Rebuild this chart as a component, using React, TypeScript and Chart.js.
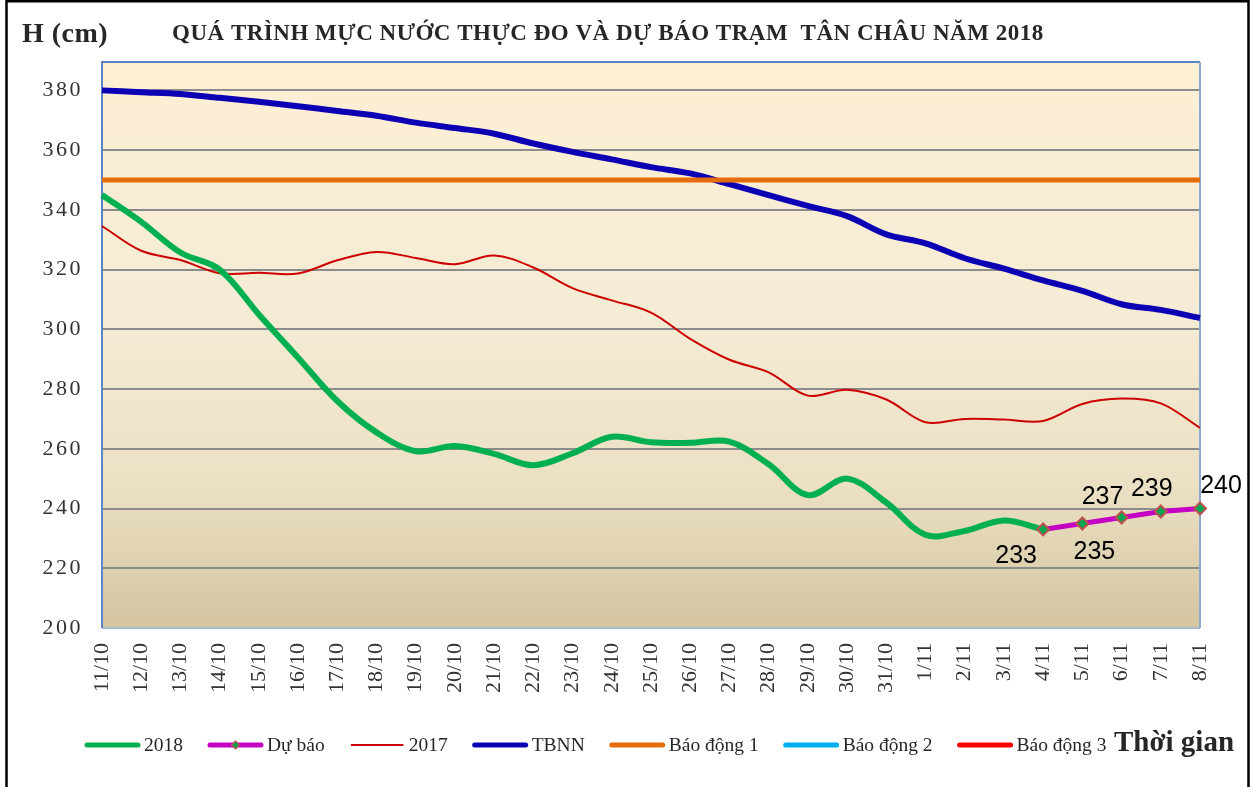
import React, { useEffect, useRef } from "react";
import { Chart, registerables } from "chart.js";

Chart.register(...registerables);

// ---------- DATA ----------
const categories = [
  "11/10", "12/10", "13/10", "14/10", "15/10", "16/10", "17/10", "18/10", "19/10", "20/10",
  "21/10", "22/10", "23/10", "24/10", "25/10", "26/10", "27/10", "28/10", "29/10", "30/10",
  "31/10", "1/11", "2/11", "3/11", "4/11", "5/11", "6/11", "7/11", "8/11",
];

const series2018: (number | null)[] = [
  345, 336, 325.7, 320, 305, 290.5, 276, 265.5, 259.2, 260.9,
  258.3, 254.5, 258.5, 264, 262.2, 262, 262.4, 254.8, 244.5, 250,
  242, 231.2, 232.5, 236, 233, null, null, null, null,
];

const forecast: (number | null)[] = [
  null, null, null, null, null, null, null, null, null, null,
  null, null, null, null, null, null, null, null, null, null,
  null, null, null, null, 233, 235, 237, 239, 240,
];

const series2017: number[] = [
  334.6, 326.3, 323.2, 318.8, 318.9, 318.7, 323.1, 325.9, 323.9, 321.8,
  324.7, 320.7, 313.8, 309.7, 305.6, 296.8, 289.8, 285.6, 277.8, 279.8,
  276.5, 268.9, 270, 269.8, 269.3, 275, 276.8, 275.2, 267,
];

const tbnn: number[] = [
  380, 379.4, 378.8, 377.5, 376.2, 374.7, 373.1, 371.5, 369.2, 367.4,
  365.5, 362.2, 359.4, 356.9, 354.3, 352.2, 348.6, 344.9, 341.3, 337.9,
  331.8, 328.8, 323.8, 320.3, 316.4, 312.9, 308.4, 306.5, 303.8,
];

const alarmLevel1 = 350;
const alarmLevel2 = 400;
const alarmLevel3 = 450;

const yTickValues = [200, 220, 240, 260, 280, 300, 320, 340, 360, 380];

const titleText = "QUÁ TRÌNH MỰC NƯỚC THỰC ĐO VÀ DỰ BÁO TRẠM  TÂN CHÂU NĂM 2018";
const yAxisTitle = "H (cm)";
const xAxisTitle = "Thời gian";

// offsets (style) of the forecast value labels relative to their points
const forecastLabelOffsets: [number, number][] = [
  [-27, 27], [12, 29], [-19, -20], [-9, -22], [21, -22],
];

const SERIF = "'Liberation Serif', 'Times New Roman', serif";
const SANS = "'Liberation Sans', Arial, sans-serif";

export default function App() {
  const canvasRef = useRef<HTMLCanvasElement | null>(null);

  useEffect(() => {
    const canvas = canvasRef.current;
    if (!canvas) return;

    const constant = (v: number) => categories.map(() => v);

    const datasets: any[] = [
      {
        label: "2018",
        data: series2018,
        borderColor: "#00B050",
        borderWidth: 6,
        tension: 0.35,
        pointRadius: 0,
        order: 1,
        legendWidth: 5,
      },
      {
        label: "Dự báo",
        data: forecast,
        borderColor: "#C400C4",
        borderWidth: 5,
        tension: 0,
        pointStyle: "rectRot",
        pointRadius: 6,
        pointHoverRadius: 6,
        pointBackgroundColor: "#00A651",
        pointBorderColor: "#C0504D",
        pointBorderWidth: 2,
        clip: false,
        order: 0,
        legendWidth: 5,
        legendMarker: true,
      },
      {
        label: "2017",
        data: series2017,
        borderColor: "#CC0000",
        borderWidth: 2,
        tension: 0.35,
        pointRadius: 0,
        order: 3,
        legendWidth: 2,
      },
      {
        label: "TBNN",
        data: tbnn,
        borderColor: "#0C00B4",
        borderWidth: 6,
        tension: 0.35,
        pointRadius: 0,
        order: 4,
        legendWidth: 5,
      },
      {
        label: "Báo động 1",
        data: constant(alarmLevel1),
        borderColor: "#E46C0A",
        borderWidth: 5,
        tension: 0,
        pointRadius: 0,
        order: 2,
        legendWidth: 5,
      },
      {
        label: "Báo động 2",
        data: constant(alarmLevel2),
        borderColor: "#00B0F0",
        borderWidth: 5,
        tension: 0,
        pointRadius: 0,
        order: 5,
        legendWidth: 5,
      },
      {
        label: "Báo động 3",
        data: constant(alarmLevel3),
        borderColor: "#FF0000",
        borderWidth: 5,
        tension: 0,
        pointRadius: 0,
        order: 6,
        legendWidth: 5,
      },
    ];

    const setSpacing = (ctx: any, v: string) => {
      if ("letterSpacing" in ctx) ctx.letterSpacing = v;
    };

    const backgroundPlugin = {
      id: "plotBackground",
      beforeDraw(chart: any) {
        const { ctx, chartArea: a } = chart;
        ctx.save();
        const g = ctx.createLinearGradient(0, a.top, 0, a.bottom);
        g.addColorStop(0, "#FDEFD4");
        g.addColorStop(0.45, "#F5ECD5");
        g.addColorStop(0.75, "#EBE0C4");
        g.addColorStop(1, "#D4C5A0");
        ctx.fillStyle = g;
        ctx.fillRect(a.left, a.top, a.right - a.left, a.bottom - a.top);
        ctx.restore();
      },
      beforeDatasetsDraw(chart: any) {
        const { ctx, chartArea: a } = chart;
        ctx.save();
        ctx.lineWidth = 2;
        ctx.strokeStyle = "#A9BBD3";
        ctx.beginPath();
        ctx.moveTo(a.left, a.bottom);
        ctx.lineTo(a.right, a.bottom);
        ctx.stroke();
        ctx.strokeStyle = "#5B86C3";
        ctx.beginPath();
        ctx.moveTo(a.left, a.bottom);
        ctx.lineTo(a.left, a.top);
        ctx.lineTo(a.right, a.top);
        ctx.stroke();
        ctx.strokeStyle = "#8FAACF";
        ctx.beginPath();
        ctx.moveTo(a.right, a.top);
        ctx.lineTo(a.right, a.bottom);
        ctx.stroke();
        ctx.restore();
      },
      afterDatasetsDraw(chart: any) {
        // y tick labels (z=1 layer) are drawn right after this hook: widen their spacing
        setSpacing(chart.ctx, "2.5px");
      },
    };

    const overlayPlugin = {
      id: "overlay",
      afterDraw(chart: any) {
        const { ctx } = chart;
        setSpacing(ctx, "0px");
        ctx.save();

        // outer frame
        ctx.strokeStyle = "#000";
        ctx.lineWidth = 2.5;
        ctx.beginPath();
        ctx.moveTo(6.5, 800);
        ctx.lineTo(6.5, 1.25);
        ctx.lineTo(1248.5, 1.25);
        ctx.lineTo(1248.5, 800);
        ctx.stroke();

        // titles
        ctx.fillStyle = "#262626";
        ctx.textBaseline = "middle";
        ctx.textAlign = "left";
        ctx.font = `bold 28px ${SERIF}`;
        setSpacing(ctx, "0.5px");
        ctx.fillText(yAxisTitle, 22, 35);

        ctx.font = `bold 23px ${SERIF}`;
        setSpacing(ctx, "0px");
        const tw = ctx.measureText(titleText).width;
        const chars = Array.from(titleText).length;
        const sp = (871 - tw) / (chars - 1);
        setSpacing(ctx, `${sp.toFixed(2)}px`);
        ctx.fillText(titleText, 172, 34);
        setSpacing(ctx, "0px");

        // forecast value labels
        const fIndex = chart.data.datasets.findIndex((d: any) => d.label === "Dự báo");
        const meta = chart.getDatasetMeta(fIndex);
        ctx.font = `25px ${SANS}`;
        ctx.fillStyle = "#000";
        ctx.textAlign = "center";
        let k = 0;
        meta.data.forEach((el: any, i: number) => {
          const v = chart.data.datasets[fIndex].data[i];
          if (v === null || v === undefined) return;
          const off = forecastLabelOffsets[k] || [0, -20];
          k++;
          ctx.fillText(String(v), el.x + off[0], el.y + off[1]);
        });

        // legend
        const legendY = 745;
        let x = 85;
        const lineLen = 55;
        ctx.font = `19.5px ${SERIF}`;
        ctx.textAlign = "left";
        ctx.textBaseline = "middle";
        chart.data.datasets.forEach((ds: any) => {
          ctx.strokeStyle = ds.borderColor;
          ctx.lineWidth = ds.legendWidth;
          ctx.lineCap = "round";
          ctx.beginPath();
          ctx.moveTo(x + 2, legendY);
          ctx.lineTo(x + lineLen - 2, legendY);
          ctx.stroke();
          if (ds.legendMarker) {
            const cx = x + lineLen / 2;
            const r = 4;
            ctx.beginPath();
            ctx.moveTo(cx - r, legendY);
            ctx.lineTo(cx, legendY - r);
            ctx.lineTo(cx + r, legendY);
            ctx.lineTo(cx, legendY + r);
            ctx.closePath();
            ctx.fillStyle = ds.pointBackgroundColor;
            ctx.fill();
            ctx.lineWidth = 1.2;
            ctx.strokeStyle = ds.pointBorderColor;
            ctx.stroke();
          }
          ctx.fillStyle = "#262626";
          const tx = x + lineLen + 4;
          ctx.fillText(ds.label, tx, legendY + 1);
          x = tx + ctx.measureText(ds.label).width + 25;
        });
        ctx.font = `bold 29px ${SERIF}`;
        ctx.fillStyle = "#262626";
        ctx.fillText(xAxisTitle, 1114, legendY - 1);

        ctx.restore();
      },
    };

    const chart = new Chart(canvas, {
      type: "line",
      data: { labels: categories, datasets },
      options: {
        animation: false,
        responsive: false,
        devicePixelRatio: 1,
        layout: { padding: { top: 62, right: 59, left: 0, bottom: 0 } },
        plugins: {
          legend: { display: false },
          tooltip: { enabled: false },
          title: { display: false },
        },
        scales: {
          x: {
            type: "category",
            offset: false,
            grid: { display: false, drawTicks: false },
            border: { display: false },
            ticks: {
              autoSkip: false,
              maxRotation: 90,
              minRotation: 90,
              padding: 15,
              color: "#333333",
              font: { family: SERIF, size: 22 },
            },
            afterFit: (s: any) => {
              s.height = 159;
            },
          },
          y: {
            min: 200,
            max: 389.5,
            afterBuildTicks: (s: any) => {
              s.ticks = yTickValues.map((v) => ({ value: v }));
            },
            grid: {
              color: (c: any) => (c.tick && c.tick.value === 200 ? "rgba(0,0,0,0)" : "#8C8C8C"),
              lineWidth: 2,
              drawTicks: false,
            },
            border: { display: false },
            ticks: {
              z: 1,
              padding: 19,
              color: "#333333",
              font: { family: SERIF, size: 22 },
            },
            afterFit: (s: any) => {
              s.width = 102;
            },
          },
        },
      } as any,
      plugins: [backgroundPlugin, overlayPlugin],
    });

    return () => {
      chart.destroy();
    };
  }, []);

  return (
    <div style={{ position: "fixed", left: 0, top: 0, width: 1259, height: 787, background: "#fff" }}>
      <canvas ref={canvasRef} width={1259} height={787} style={{ display: "block" }} />
    </div>
  );
}
